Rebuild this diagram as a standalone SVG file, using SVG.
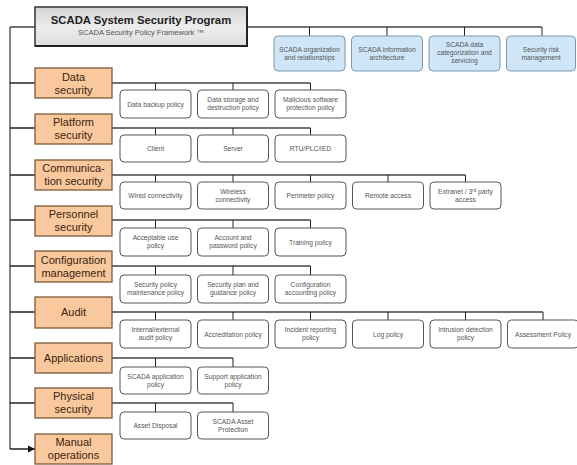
<svg xmlns="http://www.w3.org/2000/svg" width="577" height="465" viewBox="0 0 577 465">
<defs>
<linearGradient id="gt" x1="0" y1="0" x2="0" y2="1">
<stop offset="0" stop-color="#d4d4d4"/><stop offset="0.5" stop-color="#ececec"/><stop offset="1" stop-color="#dedede"/>
</linearGradient>
<marker id="ah" markerWidth="8" markerHeight="8" refX="7" refY="4" orient="auto" markerUnits="userSpaceOnUse">
<path d="M0,0.5 L7,4 L0,7.5 Z" fill="#111"/>
</marker>
<style>
.title{fill:url(#gt);stroke:#333;stroke-width:1.5}
.cat{fill:#f9c89c;stroke:#7a5a3a;stroke-width:1.3}
.leaf{fill:#fff;stroke:#555;stroke-width:1}
.blue{fill:#cfe6f8;stroke:#7d97aa;stroke-width:1}
.ct{font-family:"Liberation Sans",Arial,sans-serif;font-size:11px;fill:#3a2410;text-anchor:middle}
.lt{font-family:"Liberation Sans",Arial,sans-serif;font-size:6.7px;fill:#555;text-anchor:middle}
.tt{font-family:"Liberation Sans",Arial,sans-serif;font-size:11.3px;font-weight:bold;fill:#222;text-anchor:middle}
.st{font-family:"Liberation Sans",Arial,sans-serif;font-size:7.5px;fill:#555;text-anchor:middle}
.cn{fill:none;stroke:#444;stroke-width:1.3}
.tk{fill:none;stroke:#222;stroke-width:1}
.ar{fill:none;stroke:#222;stroke-width:1.3;marker-end:url(#ah)}
</style>
</defs>
<rect width="577" height="465" fill="#fff"/>
<g id="connectors">
<path class="cn" d="M10,27 V449 M10,27 H35"/>
<path class="ar" d="M10,83 H35 M10,128 H35 M10,175 H35 M10,220 H35 M10,266 H35 M10,312 H35 M10,358 H35 M10,403 H35 M10,449 H35"/>
<path class="cn" d="M247,27 H542"/>
<path class="tk" d="M309.5,27 V36 M387,27 V36 M464.5,27 V36 M542,27 V36"/>
<path class="cn" d="M112,83 H310.5 M112,128 H310.5 M112,175 H465.5 M112,220 H310.5 M112,266 H310.5 M112,312 H543 M112,358 H233 M112,403 H233"/>
<path class="tk" d="M155.5,83 V90 M233,83 V90 M310.5,83 V90
M155.5,128 V135 M233,128 V135 M310.5,128 V135
M155.5,175 V182 M233,175 V182 M310.5,175 V182 M388,175 V182 M465.5,175 V182
M155.5,220 V228 M233,220 V228 M310.5,220 V228
M155.5,266 V275 M233,266 V275 M310.5,266 V275
M155.5,312 V320 M233,312 V320 M310.5,312 V320 M388,312 V320 M465.5,312 V320 M543,312 V320
M155.5,358 V367 M233,358 V367
M155.5,403 V412 M233,403 V412"/>
</g>
<g id="title">
<rect class="title" x="35" y="7" width="212" height="39"/>
<path d="M247,7 V46 H35" fill="none" stroke="#222" stroke-width="2"/>
<text class="tt" x="141" y="24">SCADA System Security Program</text>
<text class="st" x="141" y="35">SCADA Security Policy Framework ™</text>
</g>
<g id="blue1"><rect class="blue" x="274" y="36" width="71" height="35" rx="4"/><text class="lt" x="309.5" y="52">SCADA organization</text><text class="lt" x="309.5" y="60">and relationships</text></g>
<g id="blue2"><rect class="blue" x="351.5" y="36" width="71" height="35" rx="4"/><text class="lt" x="387" y="52">SCADA information</text><text class="lt" x="387" y="60">architecture</text></g>
<g id="blue3"><rect class="blue" x="429" y="36" width="71" height="35" rx="4"/><text class="lt" x="464.5" y="47">SCADA data</text><text class="lt" x="464.5" y="55">categorization and</text><text class="lt" x="464.5" y="63">servicing</text></g>
<g id="blue4"><rect class="blue" x="506.5" y="36" width="69" height="35" rx="4"/><text class="lt" x="541" y="52">Security risk</text><text class="lt" x="541" y="60">management</text></g>

<g id="cat-data"><rect class="cat" x="35" y="68" width="77" height="30"/><text class="ct" x="73.5" y="81">Data</text><text class="ct" x="73.5" y="94">security</text></g>
<g id="cat-platform"><rect class="cat" x="35" y="114" width="77" height="30"/><text class="ct" x="73.5" y="126">Platform</text><text class="ct" x="73.5" y="139">security</text></g>
<g id="cat-comm"><rect class="cat" x="35" y="160" width="77" height="30"/><text class="ct" x="73.5" y="172">Communica-</text><text class="ct" x="73.5" y="185">tion security</text></g>
<g id="cat-personnel"><rect class="cat" x="35" y="206" width="77" height="30"/><text class="ct" x="73.5" y="218">Personnel</text><text class="ct" x="73.5" y="231">security</text></g>
<g id="cat-config"><rect class="cat" x="35" y="251" width="77" height="31"/><text class="ct" x="73.5" y="264">Configuration</text><text class="ct" x="73.5" y="277">management</text></g>
<g id="cat-audit"><rect class="cat" x="35" y="297" width="77" height="31"/><text class="ct" x="73.5" y="316">Audit</text></g>
<g id="cat-apps"><rect class="cat" x="35" y="343" width="77" height="30"/><text class="ct" x="73.5" y="362">Applications</text></g>
<g id="cat-physical"><rect class="cat" x="35" y="388" width="77" height="30"/><text class="ct" x="73.5" y="400">Physical</text><text class="ct" x="73.5" y="413">security</text></g>
<g id="cat-manual"><rect class="cat" x="35" y="434" width="77" height="30"/><text class="ct" x="73.5" y="446">Manual</text><text class="ct" x="73.5" y="459">operations</text></g>

<g id="d1"><rect class="leaf" x="120" y="90" width="71" height="28" rx="4"/><text class="lt" x="155.5" y="106.5">Data backup policy</text></g>
<g id="d2"><rect class="leaf" x="197.5" y="90" width="71" height="28" rx="4"/><text class="lt" x="233" y="102">Data storage and</text><text class="lt" x="233" y="110">destruction policy</text></g>
<g id="d3"><rect class="leaf" x="275" y="90" width="71" height="28" rx="4"/><text class="lt" x="310.5" y="102">Malicious software</text><text class="lt" x="310.5" y="110">protection policy</text></g>

<g id="p1"><rect class="leaf" x="120" y="135" width="71" height="27" rx="4"/><text class="lt" x="155.5" y="151">Client</text></g>
<g id="p2"><rect class="leaf" x="197.5" y="135" width="71" height="27" rx="4"/><text class="lt" x="233" y="151">Server</text></g>
<g id="p3"><rect class="leaf" x="275" y="135" width="71" height="27" rx="4"/><text class="lt" x="310.5" y="151">RTU/PLC/IED</text></g>

<g id="c1"><rect class="leaf" x="120" y="182" width="71" height="27" rx="4"/><text class="lt" x="155.5" y="198">Wired connectivity</text></g>
<g id="c2"><rect class="leaf" x="197.5" y="182" width="71" height="27" rx="4"/><text class="lt" x="233" y="193.5">Wireless</text><text class="lt" x="233" y="201.5">connectivity</text></g>
<g id="c3"><rect class="leaf" x="275" y="182" width="71" height="27" rx="4"/><text class="lt" x="310.5" y="198">Perimeter policy</text></g>
<g id="c4"><rect class="leaf" x="352.5" y="182" width="71" height="27" rx="4"/><text class="lt" x="388" y="198">Remote access</text></g>
<g id="c5"><rect class="leaf" x="430" y="182" width="71" height="27" rx="4"/><text class="lt" x="465.5" y="193.5">Extranet / 3<tspan font-size="4.5" dy="-2">rd</tspan><tspan dy="2"> party</tspan></text><text class="lt" x="465.5" y="201.5">access</text></g>

<g id="pe1"><rect class="leaf" x="120" y="228" width="71" height="28" rx="4"/><text class="lt" x="155.5" y="240">Acceptable use</text><text class="lt" x="155.5" y="248">policy</text></g>
<g id="pe2"><rect class="leaf" x="197.5" y="228" width="71" height="28" rx="4"/><text class="lt" x="233" y="240">Account and</text><text class="lt" x="233" y="248">password policy</text></g>
<g id="pe3"><rect class="leaf" x="275" y="228" width="71" height="28" rx="4"/><text class="lt" x="310.5" y="244.5">Training policy</text></g>

<g id="cf1"><rect class="leaf" x="120" y="275" width="71" height="28" rx="4"/><text class="lt" x="155.5" y="287">Security policy</text><text class="lt" x="155.5" y="295">maintenance policy</text></g>
<g id="cf2"><rect class="leaf" x="197.5" y="275" width="71" height="28" rx="4"/><text class="lt" x="233" y="287">Security plan and</text><text class="lt" x="233" y="295">guidance policy</text></g>
<g id="cf3"><rect class="leaf" x="275" y="275" width="71" height="28" rx="4"/><text class="lt" x="310.5" y="287">Configuration</text><text class="lt" x="310.5" y="295">accounting policy</text></g>

<g id="a1"><rect class="leaf" x="120" y="320" width="71" height="28" rx="4"/><text class="lt" x="155.5" y="332">Internal/external</text><text class="lt" x="155.5" y="340">audit policy</text></g>
<g id="a2"><rect class="leaf" x="197.5" y="320" width="71" height="28" rx="4"/><text class="lt" x="233" y="336.5">Accreditation policy</text></g>
<g id="a3"><rect class="leaf" x="275" y="320" width="71" height="28" rx="4"/><text class="lt" x="310.5" y="332">Incident reporting</text><text class="lt" x="310.5" y="340">policy</text></g>
<g id="a4"><rect class="leaf" x="352.5" y="320" width="71" height="28" rx="4"/><text class="lt" x="388" y="336.5">Log policy</text></g>
<g id="a5"><rect class="leaf" x="430" y="320" width="71" height="28" rx="4"/><text class="lt" x="465.5" y="332">Intrusion detection</text><text class="lt" x="465.5" y="340">policy</text></g>
<g id="a6"><rect class="leaf" x="507.5" y="320" width="71" height="28" rx="4"/><text class="lt" x="543" y="336.5">Assessment Policy</text></g>

<g id="ap1"><rect class="leaf" x="120" y="367" width="71" height="27" rx="4"/><text class="lt" x="155.5" y="378.5">SCADA application</text><text class="lt" x="155.5" y="386.5">policy</text></g>
<g id="ap2"><rect class="leaf" x="197.5" y="367" width="71" height="27" rx="4"/><text class="lt" x="233" y="378.5">Support application</text><text class="lt" x="233" y="386.5">policy</text></g>

<g id="ph1"><rect class="leaf" x="120" y="412" width="71" height="27" rx="4"/><text class="lt" x="155.5" y="428">Asset Disposal</text></g>
<g id="ph2"><rect class="leaf" x="197.5" y="412" width="71" height="27" rx="4"/><text class="lt" x="233" y="423.5">SCADA Asset</text><text class="lt" x="233" y="431.5">Protection</text></g>
</svg>
